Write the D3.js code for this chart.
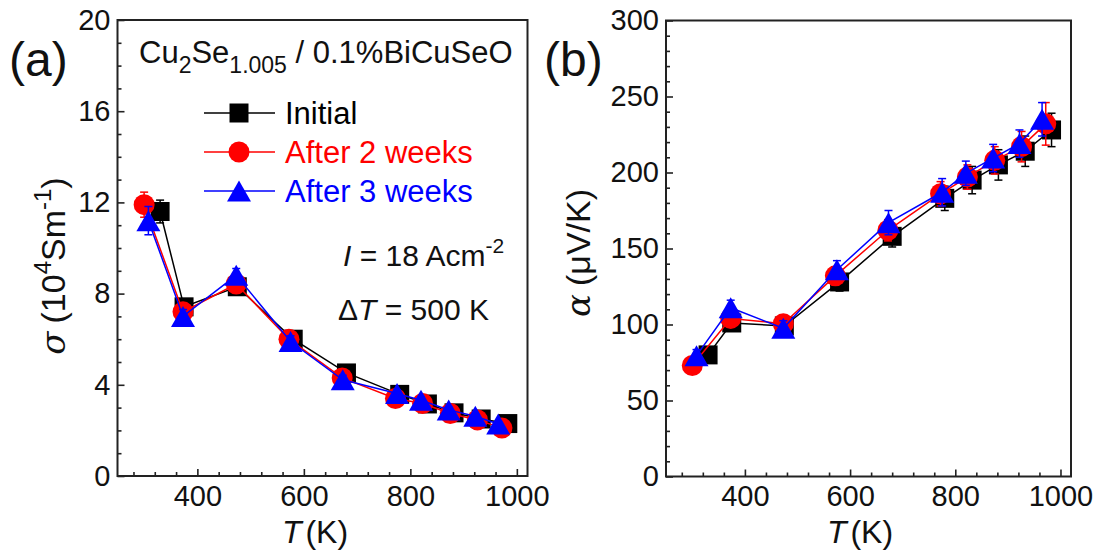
<!DOCTYPE html>
<html>
<head>
<meta charset="utf-8">
<script src="https://cdn.jsdelivr.net/npm/d3@7"></script>
<style>
  html, body { margin: 0; padding: 0; background: #fff; }
  svg { display: block; font-family: "Liberation Sans", Arial, sans-serif; }
</style>
</head>
<body>
<svg id="chart" width="1100" height="551"></svg>
<script>
// Measurement temperatures (K) for each sample state
const tempInitial = [330, 375, 475, 580, 680, 780, 832, 882, 933, 983];
const temp2Weeks  = [300, 373, 473, 572, 672, 772, 823, 875, 926, 972];
const temp3Weeks  = [308, 373, 473, 575, 673, 775, 820, 872, 922, 965];

// Electrical conductivity sigma (10^4 S/m) and its error
const sigmaInitial = [11.6, 7.42, 8.3, 6.0, 4.52, 3.58, 3.16, 2.77, 2.5, 2.3];
const sigma2Weeks  = [11.9, 7.2, 8.42, 6.0, 4.3, 3.4, 3.18, 2.74, 2.46, 2.1];
const sigma3Weeks  = [11.2, 7.0, 8.8, 5.9, 4.22, 3.62, 3.32, 2.9, 2.62, 2.28];
const sigmaErrInitial = [0.5, 0.3, 0.3, 0.25, 0.2, 0.15, 0.14, 0.12, 0.1, 0.1];
const sigmaErr2Weeks  = [0.55, 0.3, 0.3, 0.25, 0.2, 0.15, 0.14, 0.12, 0.1, 0.1];
const sigmaErr3Weeks  = [0.62, 0.3, 0.3, 0.25, 0.2, 0.15, 0.14, 0.12, 0.1, 0.1];

// Seebeck coefficient alpha (uV/K) and its error
const alphaInitial = [80, 101, 99, 128, 158, 183, 195, 205, 214, 228];
const alpha2Weeks  = [73, 104, 100.5, 132, 162, 186, 197, 208, 217, 232];
const alpha3Weeks  = [79.5, 111, 97.5, 136, 167, 187, 199.5, 209.5, 219, 235];
const alphaErrInitial = [4, 5, 5, 6, 7, 8, 9, 10, 10, 11];
const alphaErr2Weeks  = [4, 5, 5, 6, 7, 8, 8, 9, 10, 14];
const alphaErr3Weeks  = [4, 5, 5, 6, 8, 9, 8, 9, 9, 11];

// Series styling and legend labels
const seriesNames  = ["Initial", "After 2 weeks", "After 3 weeks"];
const seriesColors = ["#000000", "#ff0000", "#0000ff"];
const seriesShapes = ["square", "circle", "triangle"];

// Axis ticks
const tempDomain = [250, 1020];
const tempMajorTicks = [400, 600, 800, 1000];
const tempMinorStep = 40;
const sigmaDomain = [0, 20];
const sigmaMajorTicks = [0, 4, 8, 12, 16, 20];
const sigmaMinorStep = 1;
const alphaDomain = [0, 300];
const alphaMajorTicks = [0, 50, 100, 150, 200, 250, 300];
const alphaMinorStep = 10;

const svg = d3.select("#chart");
const AXIS_COLOR = "#222";
const TEXT_COLOR = "#111";

function markerPath(shape) {
  if (shape === "square") { const s = 19; return `M${-s/2},${-s/2}h${s}v${s}h${-s}Z`; }
  if (shape === "circle") { const r = 10.5; return `M${-r},0a${r},${r} 0 1,0 ${2*r},0a${r},${r} 0 1,0 ${-2*r},0Z`; }
  const w = 24, h = 21; // triangle, centred on its bounding box
  return `M0,${-h/2}L${w/2},${h/2}L${-w/2},${h/2}Z`;
}

function drawPanel(box, yDomain, yMajor, yMinorStep, temps, values, errors) {
  const g = svg.append("g");
  const x = d3.scaleLinear().domain(tempDomain).range([box.left, box.right]);
  const y = d3.scaleLinear().domain(yDomain).range([box.bottom, box.top]);

  const xMinor = d3.range(280, tempDomain[1], tempMinorStep).filter(v => !tempMajorTicks.includes(v));
  const yMinor = d3.range(yDomain[0], yDomain[1], yMinorStep).filter(v => !yMajor.includes(v));

  // minor ticks (inward)
  g.append("g").attr("transform", `translate(0,${box.bottom})`)
    .call(d3.axisBottom(x).tickValues(xMinor).tickSize(-4).tickFormat(""));
  g.append("g").attr("transform", `translate(${box.left},0)`)
    .call(d3.axisLeft(y).tickValues(yMinor).tickSize(-4).tickFormat(""));
  // major ticks with labels
  g.append("g").attr("transform", `translate(0,${box.bottom})`)
    .call(d3.axisBottom(x).tickValues(tempMajorTicks).tickSize(-7).tickPadding(9).tickFormat(d3.format("d")));
  g.append("g").attr("transform", `translate(${box.left},0)`)
    .call(d3.axisLeft(y).tickValues(yMajor).tickSize(-7).tickPadding(7).tickFormat(d3.format("d")));

  g.selectAll(".domain").remove();
  g.selectAll(".tick line").attr("stroke", AXIS_COLOR).attr("stroke-width", 1.6);
  g.selectAll(".tick text").attr("fill", TEXT_COLOR).attr("font-size", 29)
    .attr("font-family", "'Liberation Sans', Arial, sans-serif");

  // frame
  g.append("rect")
    .attr("x", box.left).attr("y", box.top)
    .attr("width", box.right - box.left).attr("height", box.bottom - box.top)
    .attr("fill", "none").attr("stroke", AXIS_COLOR).attr("stroke-width", 2);

  // data series: line, error bars, then symbols
  temps.forEach((tArr, i) => {
    const pts = tArr.map((t, k) => ({ t, v: values[i][k], e: errors[i][k] }));
    const color = seriesColors[i];
    const sg = g.append("g");
    sg.append("path").datum(pts)
      .attr("fill", "none").attr("stroke", color).attr("stroke-width", 1.5)
      .attr("d", d3.line().x(d => x(d.t)).y(d => y(d.v)));
    const eb = sg.selectAll(".err").data(pts).enter().append("g");
    eb.append("line")
      .attr("x1", d => x(d.t)).attr("x2", d => x(d.t))
      .attr("y1", d => y(d.v - d.e)).attr("y2", d => y(d.v + d.e))
      .attr("stroke", color).attr("stroke-width", 1.5);
    [-1, 1].forEach(sgn => {
      eb.append("line")
        .attr("x1", d => x(d.t) - 4).attr("x2", d => x(d.t) + 4)
        .attr("y1", d => y(d.v + sgn * d.e)).attr("y2", d => y(d.v + sgn * d.e))
        .attr("stroke", color).attr("stroke-width", 1.5);
    });
    sg.selectAll(".pt").data(pts).enter().append("path")
      .attr("transform", d => `translate(${x(d.t)},${y(d.v)})`)
      .attr("d", markerPath(seriesShapes[i]))
      .attr("fill", color);
  });
  return { g, x, y };
}

const temps = [tempInitial, temp2Weeks, temp3Weeks];

// (a) electrical conductivity
drawPanel({ left: 117.5, right: 527.5, top: 20, bottom: 476 },
  sigmaDomain, sigmaMajorTicks, sigmaMinorStep, temps,
  [sigmaInitial, sigma2Weeks, sigma3Weeks],
  [sigmaErrInitial, sigmaErr2Weeks, sigmaErr3Weeks]);

// (b) Seebeck coefficient
drawPanel({ left: 666, right: 1071, top: 20.5, bottom: 476.5 },
  alphaDomain, alphaMajorTicks, alphaMinorStep, temps,
  [alphaInitial, alpha2Weeks, alpha3Weeks],
  [alphaErrInitial, alphaErr2Weeks, alphaErr3Weeks]);

// panel letters
svg.append("text").attr("x", 9).attr("y", 76).attr("font-size", 48).attr("fill", TEXT_COLOR).text("(a)");
svg.append("text").attr("x", 544).attr("y", 76).attr("font-size", 48).attr("fill", TEXT_COLOR).text("(b)");

// x-axis titles
[315, 860].forEach(cx => {
  const t = svg.append("text").attr("x", cx).attr("y", 543).attr("text-anchor", "middle")
    .attr("font-size", 32).attr("fill", TEXT_COLOR);
  t.append("tspan").attr("font-style", "italic").text("T");
  t.append("tspan").attr("dx", 4).text("(K)");
});

// y-axis title, panel (a)
const ya = svg.append("text").attr("transform", "translate(65,266) rotate(-90)")
  .attr("text-anchor", "middle").attr("font-size", 34).attr("fill", TEXT_COLOR);
ya.append("tspan").attr("font-style", "italic").attr("font-family", "'DejaVu Serif', serif").text("σ");
ya.append("tspan").attr("dx", 8).text("(10");
ya.append("tspan").attr("font-size", 24).attr("dy", -14).text("4");
ya.append("tspan").attr("dy", 14).text("Sm");
ya.append("tspan").attr("font-size", 24).attr("dy", -14).text("-1");
ya.append("tspan").attr("dy", 14).text(")");

// y-axis title, panel (b)
const yb = svg.append("text").attr("transform", "translate(590,253) rotate(-90)")
  .attr("text-anchor", "middle").attr("font-size", 34).attr("fill", TEXT_COLOR);
yb.append("tspan").attr("font-style", "italic").attr("font-family", "'DejaVu Serif', serif").text("α");
yb.append("tspan").attr("dx", 8).text("(μV/K)");

// composition label
const comp = svg.append("text").attr("x", 139).attr("y", 63).attr("font-size", 31).attr("fill", TEXT_COLOR);
comp.append("tspan").text("Cu");
comp.append("tspan").attr("font-size", 23).attr("dy", 10).text("2");
comp.append("tspan").attr("dy", -10).text("Se");
comp.append("tspan").attr("font-size", 23).attr("dy", 10).text("1.005");
comp.append("tspan").attr("dy", -10).text(" / 0.1%BiCuSeO");

// legend
const legendRows = [113, 152, 191];
seriesNames.forEach((name, i) => {
  const ry = legendRows[i];
  svg.append("line").attr("x1", 204).attr("x2", 275).attr("y1", ry).attr("y2", ry)
    .attr("stroke", seriesColors[i]).attr("stroke-width", 1.5);
  svg.append("path").attr("transform", `translate(239,${ry})`)
    .attr("d", markerPath(seriesShapes[i])).attr("fill", seriesColors[i]);
  svg.append("text").attr("x", 285).attr("y", ry + 11).attr("font-size", 31)
    .attr("fill", seriesColors[i]).text(name);
});

// measurement conditions
const cur = svg.append("text").attr("x", 343).attr("y", 266).attr("font-size", 30).attr("fill", TEXT_COLOR);
cur.append("tspan").attr("font-style", "italic").text("I");
cur.append("tspan").text(" = 18 Acm");
cur.append("tspan").attr("font-size", 21).attr("dy", -13).text("-2");

const dt = svg.append("text").attr("x", 338).attr("y", 320).attr("font-size", 30).attr("fill", TEXT_COLOR);
dt.append("tspan").text("Δ");
dt.append("tspan").attr("font-style", "italic").text("T");
dt.append("tspan").text(" = 500 K");
</script>
</body>
</html>
